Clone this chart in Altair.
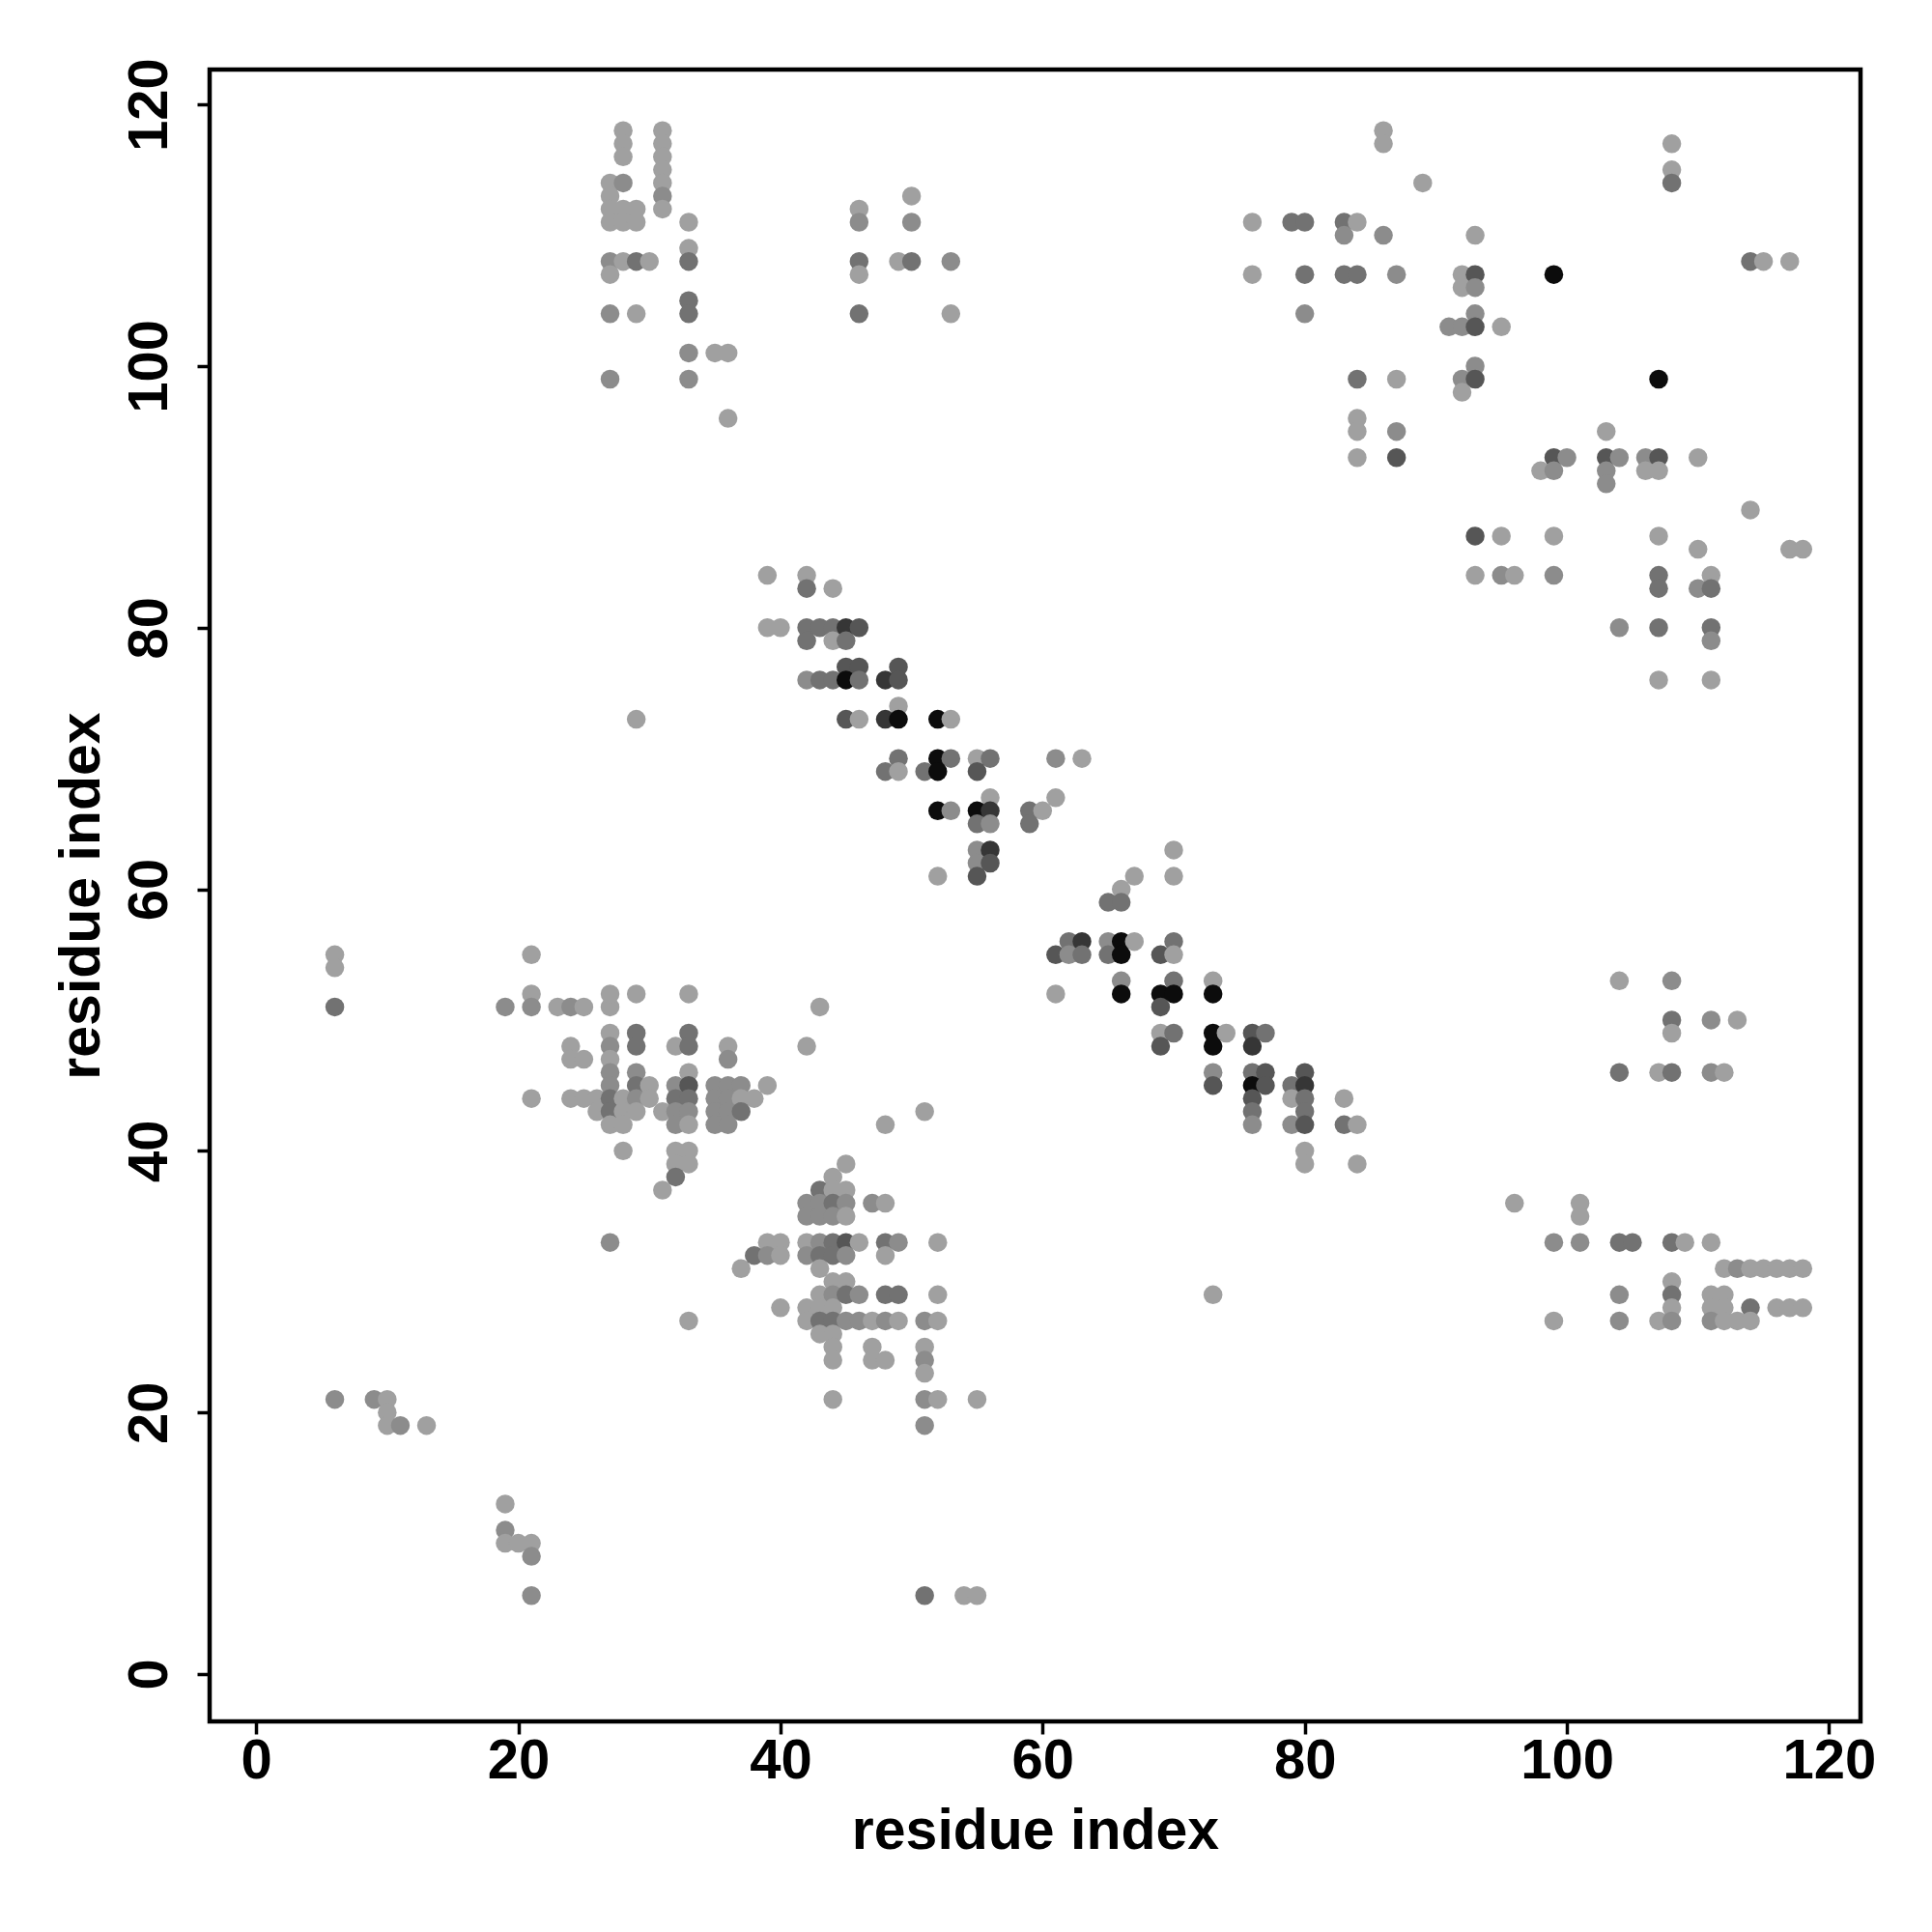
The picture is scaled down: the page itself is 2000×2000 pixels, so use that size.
import altair as alt
import pandas as pd

# (x residue, y residue, shade level 1=light .. 6=black)
top_left = [
    (28,118,1),(28,117,1),(28,116,1),
    (31,118,1),(31,117,1),(31,116,1),(31,115,1),(31,114,1),(31,113,2),(31,112,1),
    (27,114,1),(27,113,1),(27,112,1),(27,111,1),(28,114,2),
    (28,112,1),(29,112,1),(28,111,1),(29,111,1),(33,111,1),
    (27,108,2),(28,108,1),(29,108,3),(30,108,1),(27,107,1),
    (33,109,1),(33,108,3),(33,105,3),(33,104,3),
    (27,104,2),(29,104,1),(33,101,2),(35,101,1),(36,101,1),
    (27,99,2),(33,99,2),(36,96,1),(29,73,1),
]
top_mid = [
    (46,112,1),(46,111,2),(50,113,1),(50,111,2),(46,108,3),(46,107,1),
    (49,108,1),(50,108,3),(53,108,2),(46,104,3),(53,104,1),
]
top_right = [
    (86,118,1),(86,117,1),(89,114,1),
    (76,111,1),(79,111,3),(80,111,3),(83,111,3),(84,111,1),
    (83,110,2),(86,110,2),(93,110,1),
    (76,107,1),(80,107,3),(83,107,3),(84,107,3),(87,107,2),(92,107,1),(93,107,4),(99,107,6),
    (92,106,1),(93,106,2),(80,104,2),(93,104,2),
    (91,103,2),(92,103,2),(93,103,4),(95,103,1),(93,100,2),
    (84,99,3),(87,99,1),(92,99,2),(93,99,4),(107,99,6),(92,98,1),
    (84,96,1),(84,95,1),(87,95,2),(103,95,1),
    (84,93,1),(87,93,4),(99,93,4),(100,93,2),(103,93,4),(104,93,2),(106,93,2),(107,93,4),(110,93,1),
    (98,92,1),(99,92,2),(103,92,2),(106,92,1),(107,92,1),(103,91,2),
    (108,117,1),(108,115,1),(108,114,3),
    (114,108,3),(115,108,1),(117,108,1),(114,89,1),
    (93,87,4),(95,87,1),(99,87,1),(107,87,1),
    (110,86,1),(117,86,1),(118,86,1),
    (93,84,1),(95,84,2),(96,84,1),(99,84,2),(107,84,3),(111,84,1),
    (107,83,3),(110,83,2),(111,83,3),
    (104,80,2),(107,80,3),(111,80,3),(111,79,2),(107,76,1),(111,76,1),
]
diagonal = [
    (39,84,1),(42,84,1),(42,83,3),(44,83,1),
    (39,80,1),(40,80,1),(42,80,3),(43,80,3),(44,80,3),(45,80,5),(46,80,4),
    (42,79,3),(44,79,1),(45,79,3),
    (45,77,4),(46,77,4),(49,77,4),
    (42,76,2),(43,76,3),(44,76,3),(45,76,6),(46,76,3),(48,76,5),(49,76,4),
    (49,74,1),
    (45,73,4),(46,73,1),(48,73,5),(49,73,6),(52,73,6),(53,73,1),
    (49,70,3),(52,70,6),(53,70,3),(55,70,1),(56,70,3),(61,70,2),(63,70,1),
    (48,69,3),(49,69,1),(51,69,3),(52,69,6),(55,69,4),
    (56,67,1),(61,67,1),
    (52,66,6),(53,66,2),(55,66,6),(56,66,5),(59,66,3),(60,66,1),
    (55,65,3),(56,65,2),(59,65,3),
    (55,63,2),(56,63,5),(55,62,2),(56,62,4),(52,61,1),(55,61,4),
    (70,63,1),(70,61,1),(67,61,1),(66,60,1),(65,59,3),(66,59,3),
    (62,56,3),(63,56,5),(65,56,2),(66,56,6),(67,56,1),(70,56,3),
    (61,55,4),(62,55,2),(63,55,3),(65,55,3),(66,55,6),(69,55,4),(70,55,1),
    (66,53,2),(70,53,3),(73,53,1),
    (61,52,1),(66,52,6),(69,52,6),(70,52,6),(73,52,6),(69,51,4),
    (69,49,1),(70,49,3),(73,49,6),(74,49,1),(76,49,4),(77,49,3),
    (69,48,4),(73,48,6),(76,48,5),
    (73,46,2),(76,46,3),(77,46,4),(80,46,4),
    (73,45,4),(76,45,6),(77,45,4),(79,45,3),(80,45,5),
    (76,44,4),(79,44,1),(80,44,3),(83,44,1),
    (76,43,3),(80,43,3),
    (76,42,2),(79,42,2),(80,42,4),(83,42,3),(84,42,1),
    (80,40,1),(80,39,1),(84,39,1),(73,29,1),
]
lower_left = [
    (6,55,1),(6,54,1),(6,51,3),(21,55,1),(21,52,1),
    (19,51,2),(21,51,2),(23,51,1),(24,51,2),(25,51,1),(27,51,1),
    (27,52,1),(29,52,1),(33,52,1),(43,51,1),
    (27,49,1),(29,49,3),(33,49,3),
    (24,48,1),(27,48,2),(29,48,3),(32,48,1),(33,48,3),(36,48,1),(42,48,1),
    (24,47,1),(25,47,1),(27,47,1),(36,47,2),
    (27,46,2),(29,46,2),(33,46,1),
    (27,45,2),(29,45,3),(30,45,1),(32,45,2),(33,45,4),(35,45,2),(36,45,2),(37,45,2),(39,45,1),
    (21,44,1),(24,44,1),(25,44,1),(26,44,1),(27,44,3),(28,44,1),(29,44,2),(30,44,1),
    (32,44,3),(33,44,3),(35,44,2),(36,44,2),(37,44,1),(38,44,1),
    (26,43,1),(27,43,3),(28,43,1),(29,43,1),(31,43,1),(32,43,2),(33,43,2),(35,43,2),(36,43,2),(37,43,3),
    (27,42,1),(28,42,1),(32,42,2),(33,42,1),(35,42,2),(36,42,2),
    (28,40,1),(32,40,1),(33,40,1),(32,39,1),(33,39,1),(32,38,3),(31,37,1),
    (27,33,2),(33,27,1),(48,42,1),(51,43,1),
]
lower_mid = [
    (45,39,1),(44,38,1),(43,37,3),(44,37,1),(45,37,1),
    (42,36,2),(43,36,2),(44,36,3),(45,36,2),(47,36,2),(48,36,1),
    (42,35,2),(43,35,2),(44,35,2),(45,35,1),
    (39,33,1),(40,33,1),(42,33,1),(43,33,2),(44,33,3),(45,33,4),(46,33,1),(48,33,3),(49,33,2),(52,33,1),
    (37,31,1),(38,32,3),(39,32,2),(40,32,1),(42,32,2),(43,32,3),(44,32,3),(45,32,2),(48,32,1),
    (43,31,1),(44,30,1),(45,30,1),
    (43,29,1),(44,29,2),(45,29,3),(46,29,2),(48,29,3),(49,29,3),(52,29,1),
    (40,28,1),(42,28,1),(43,28,1),(44,28,1),
    (42,27,1),(43,27,3),(44,27,3),(45,27,2),(46,27,2),(47,27,1),(48,27,2),(49,27,1),(51,27,2),(52,27,1),
    (43,26,1),(44,26,1),(44,25,1),(47,25,1),(51,25,1),
    (44,24,1),(47,24,1),(48,24,1),(51,24,2),(51,23,1),
    (44,21,1),(51,21,2),(52,21,1),(55,21,1),(51,19,2),
]
bottom_left = [
    (6,21,2),(9,21,2),(10,21,1),(10,20,1),(10,19,1),(11,19,2),(13,19,1),
    (19,13,1),(19,11,2),(19,10,1),(20,10,1),(21,10,1),(21,9,2),(21,6,2),
    (51,6,3),(54,6,1),(55,6,1),
]
lower_right = [
    (104,53,1),(108,53,2),(108,50,3),(111,50,2),(113,50,1),(108,49,1),
    (104,46,3),(107,46,1),(108,46,3),(111,46,2),(112,46,1),
    (96,36,1),(101,36,1),(101,35,1),
    (99,33,2),(101,33,2),(104,33,3),(105,33,3),(108,33,3),(109,33,1),(111,33,1),
    (112,31,1),(113,31,2),(114,31,1),(115,31,1),(116,31,1),(117,31,1),(118,31,1),
    (108,30,1),(104,29,2),(108,29,3),(111,29,1),(112,29,1),
    (108,28,1),(111,28,1),(112,28,1),(114,28,3),(116,28,1),(117,28,1),(118,28,1),
    (99,27,1),(104,27,2),(107,27,1),(108,27,2),(111,27,2),(112,27,1),(113,27,1),(114,27,1),
]

tick_values = [0, 20, 40, 60, 80, 100, 120]
shade_levels = [1, 2, 3, 4, 5, 6]
shade_colors = ["#a0a0a0", "#8c8c8c", "#727272", "#565656", "#363636", "#0c0c0c"]

rows = []
for group in [top_left, top_mid, top_right, diagonal, lower_left, lower_mid, bottom_left, lower_right]:
    for x, y, lv in group:
        rows.append({"i": x, "j": y, "level": lv})
df = pd.DataFrame(rows)

W, H = 1709, 1710
FONT = "Liberation Sans"

chart = alt.Chart(df).mark_circle(size=380, opacity=1).encode(
    x=alt.X("i:Q", scale=alt.Scale(domain=[-3.55, 122.4], nice=False, zero=False),
            axis=alt.Axis(values=tick_values, title="residue index", grid=False, domain=False,
                          tickSize=13, tickWidth=3.5, tickColor="black",
                          labelFont=FONT, labelFontWeight="bold", labelFontSize=58, labelColor="black",
                          labelBaseline="alphabetic", labelPadding=45, labelAlign="center",
                          titleFont=FONT, titleFontWeight="bold", titleFontSize=59, titleColor="black",
                          titleX=W / 2, titleY=131, titleBaseline="alphabetic", titleAlign="center")),
    y=alt.Y("j:Q", scale=alt.Scale(domain=[-3.62, 122.67], nice=False, zero=False),
            axis=alt.Axis(values=tick_values, title="residue index", grid=False, domain=False,
                          tickSize=13, tickWidth=3.5, tickColor="black",
                          labelFont=FONT, labelFontWeight="bold", labelFontSize=58, labelColor="black",
                          labelAngle=270, labelAlign="center", labelBaseline="alphabetic", labelPadding=32,
                          titleFont=FONT, titleFontWeight="bold", titleFontSize=59, titleColor="black",
                          titleAngle=270, titleX=-115, titleY=H / 2, titleBaseline="alphabetic",
                          titleAlign="center")),
    color=alt.Color("level:O", scale=alt.Scale(domain=shade_levels, range=shade_colors), legend=None),
).properties(
    width=W, height=H,
    background="white",
    autosize=alt.AutoSizeParams(type="none"),
    padding={"left": 209, "top": 64, "right": 60, "bottom": 240},
).configure_view(
    stroke="black", strokeWidth=4.5
)

chart.save("out.html", embed_options={"renderer": "svg", "actions": False})
